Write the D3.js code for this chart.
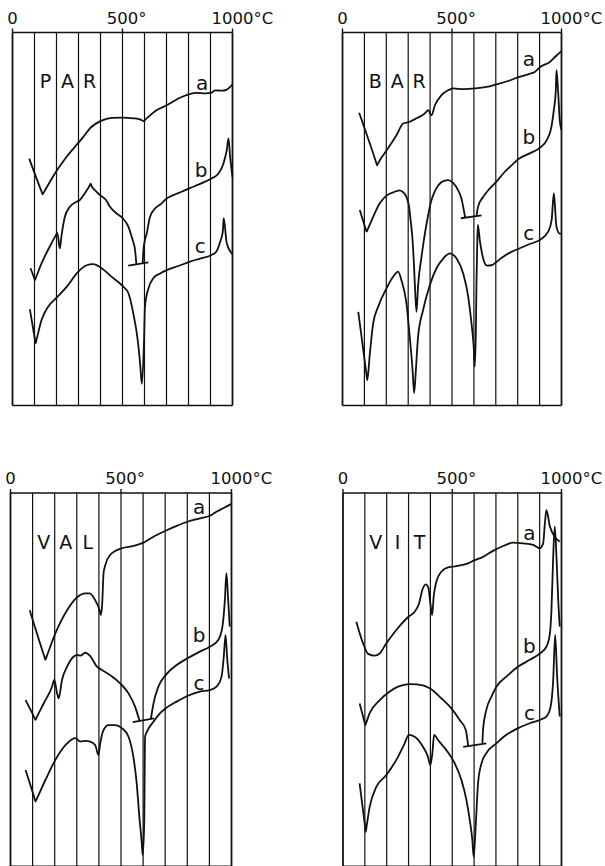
<!DOCTYPE html>
<html>
<head>
<meta charset="utf-8">
<script src="https://cdn.jsdelivr.net/npm/d3@7"></script>
<style>
  body { margin: 0; background: #fff; }
  text { font-family: "DejaVu Sans", sans-serif; fill: #111; }
</style>
</head>
<body>
<svg id="vis" width="605" height="866"></svg>
<script>
// temperature grid (every 100 degC) and the three labelled ticks
const gridTemps = [0, 100, 200, 300, 400, 500, 600, 700, 800, 900, 1000];
const tickLabels = [
    {t: 0, num: "0", unit: ""},
    {t: 500, num: "500", unit: "°"},
    {t: 1000, num: "1000", unit: "°C"}
];
// sample letters sit between the grid lines at these temperatures
const letterTemps = [150, 250, 350];
const letterLevel = 85;

// curves: [temperature degC, deflection 0-100 of the frame height]
const parA = [[76,66.2],[133,57.2],[137,56.6],[141,57.0],[197,62.6],[246,66.7],[299,70.4],[322,72.0],[352,74.3],[402,76.3],[451,77.1],[501,77.2],[549,77.0],[580,76.7],[598,76.2],[602,76.5],[618,77.4],[656,79.2],[701,80.5],[754,82.3],[804,83.5],[838,83.8],[876,83.7],[906,83.9],[921,84.5],[951,84.4],[974,84.7],[1000,86.1]];
const parBLeft = [[82,36.8],[99,34.1],[102,33.6],[106,34.2],[132,38.1],[170,42.7],[193,45.2],[204,46.3],[215,42.1],[222,45.2],[238,50.6],[261,53.3],[291,54.6],[306,55.1],[329,56.9],[351,59.0],[355,59.5],[359,58.9],[375,57.7],[398,56.4],[425,55.1],[443,53.3],[473,51.5],[501,50.2],[527,47.9],[542,45.2],[549,43.8],[557,41.7],[563,37.9]];
const parBBar = [[526,37.5],[618,38.4]];
const parBRight = [[592,38.2],[595,41.7],[602,44.3],[610,46.1],[625,50.6],[648,52.8],[678,54.2],[701,55.5],[731,56.4],[769,57.3],[804,58.2],[853,59.4],[906,60.9],[936,62.2],[959,64.9],[974,68.5],[982,71.6],[989,66.7],[1000,61.3]];
const parC = [[79,25.8],[102,17.7],[105,16.7],[109,17.6],[132,22.9],[162,26.5],[197,28.7],[246,31.8],[299,35.9],[337,37.6],[367,37.9],[405,36.8],[451,34.5],[501,32.0],[527,30.1],[549,24.7],[569,17.6],[580,11.3],[588,5.8],[598,17.6],[602,26.5],[618,31.4],[640,34.1],[671,35.4],[701,36.3],[754,37.4],[804,38.5],[853,39.4],[903,40.3],[926,41.2],[944,43.9],[956,46.6],[960,50.2],[974,43.5],[1000,40.6]];
const parLabels = [["a",862,84.7],["b",857,61.3],["c",853,40.8]];

const barA = [[76,78.5],[153,65.3],[158,64.4],[163,65.0],[204,68.6],[247,72.5],[277,75.6],[304,76.0],[338,77.0],[376,78.3],[391,79.2],[406,77.8],[422,80.5],[452,83.2],[482,84.5],[505,85.0],[551,84.8],[607,85.0],[658,85.4],[703,86.1],[756,87.0],[807,88.1],[848,88.8],[878,89.4],[904,90.8],[947,92.1],[975,93.7],[1000,95.0]];
const barBLeft = [[79,52.4],[106,47.3],[110,46.6],[114,47.1],[140,50.6],[170,54.2],[204,56.4],[239,57.3],[262,57.7],[274,57.3],[292,55.9],[304,53.3],[311,49.7],[320,44.3],[326,38.1],[333,29.2],[338,25.1],[345,32.0],[361,40.0],[376,46.0],[391,51.0],[406,55.0],[422,57.5],[437,59.0],[467,60.3],[482,60.4],[505,59.7],[528,57.7],[543,55.5],[560,50.4]];
const barBBar = [[540,50.2],[635,51.0]];
const barBRight = [[612,50.8],[619,53.3],[642,55.9],[673,58.2],[703,60.0],[734,62.2],[772,64.4],[807,66.2],[855,67.6],[904,69.2],[932,71.1],[954,74.7],[965,79.2],[974,84.5],[977,89.9],[985,83.7],[992,76.5],[1000,73.8]];
const barC = [[72,25.1],[109,8.6],[113,6.8],[125,14.0],[140,22.0],[163,26.5],[201,31.4],[231,34.5],[254,35.9],[269,33.6],[292,27.4],[307,18.4],[320,9.5],[327,3.3],[335,9.5],[345,18.4],[368,25.6],[399,32.3],[429,36.8],[460,39.4],[490,40.8],[521,39.4],[551,35.4],[574,29.2],[589,22.0],[600,14.9],[604,10.4],[609,20.2],[612,33.6],[615,42.6],[618,48.4],[627,44.3],[642,39.5],[660,37.5],[680,37.6],[703,38.5],[734,39.9],[772,41.2],[807,42.1],[855,43.3],[904,44.5],[939,46.6],[955,49.7],[965,56.9],[977,47.9],[992,46.1],[1000,46.1]];
const barLabels = [["a",851,90.9],["b",851,70.2],["c",851,44.3]];

const valA = [[87,68.6],[153,56.2],[158,55.3],[163,56.1],[203,62.4],[256,68.6],[304,72.2],[338,73.1],[358,73.1],[383,71.3],[403,68.6],[409,67.3],[415,70.4],[421,78.5],[429,80.7],[451,83.4],[504,85.2],[556,85.8],[602,86.7],[647,88.3],[702,89.9],[752,91.2],[800,92.3],[857,93.2],[902,93.9],[932,95.0],[962,95.9],[1000,97.1]];
const valBLeft = [[68,44.5],[109,39.7],[113,39.2],[117,39.7],[150,43.6],[188,48.1],[198,49.9],[211,46.3],[218,45.0],[233,49.9],[256,53.5],[278,55.7],[304,56.6],[316,56.4],[338,57.2],[361,56.3],[391,53.5],[403,53.0],[451,51.2],[496,49.0],[534,46.3],[564,42.7],[584,38.9]];
const valBBar = [[553,38.6],[650,39.6]];
const valBRight = [[635,39.4],[647,43.6],[669,48.1],[702,51.2],[752,53.9],[800,55.7],[857,57.5],[902,58.8],[940,60.6],[959,64.2],[970,71.3],[977,78.5],[985,71.3],[992,64.2]];
const valC = [[68,25.8],[109,18.1],[113,17.3],[117,17.8],[158,23.1],[203,28.5],[256,32.9],[293,34.3],[316,33.4],[338,33.6],[361,33.4],[383,32.5],[398,29.8],[406,32.9],[421,36.5],[444,37.8],[474,37.8],[504,37.0],[534,34.7],[556,29.3],[571,22.2],[583,13.3],[594,6.1],[598,3.0],[605,11.5],[609,34.7],[617,36.0],[647,38.7],[677,41.0],[702,42.3],[752,44.1],[800,45.6],[857,46.8],[902,47.2],[932,48.1],[955,50.8],[965,56.1],[973,62.0],[980,56.1],[989,50.3]];
const valLabels = [["a",853,94.4],["b",853,60.2],["c",853,47.2]];

const vitA = [[61,65.5],[92,59.7],[115,56.9],[145,56.4],[168,57.0],[198,59.7],[244,63.3],[301,66.9],[328,68.2],[348,70.4],[363,74.0],[379,75.5],[391,74.5],[400,70.4],[408,67.3],[415,72.2],[427,76.2],[450,78.9],[481,80.1],[519,80.4],[565,81.0],[603,82.0],[641,82.9],[687,84.5],[733,85.8],[779,86.7],[824,86.5],[870,86.1],[901,85.2],[916,86.5],[924,91.9],[931,95.4],[947,91.0],[969,88.3],[992,87.0]];
const vitBLeft = [[76,43.6],[99,38.5],[102,37.8],[106,38.4],[122,41.0],[168,44.5],[214,46.8],[252,48.1],[301,48.8],[339,48.7],[397,47.7],[450,45.0],[496,42.3],[534,39.2],[562,36.5],[573,32.2]];
const vitBBar = [[550,32.0],[656,32.9]];
const vitBRight = [[638,32.8],[641,36.5],[656,41.9],[679,45.4],[702,48.1],[748,50.8],[802,53.5],[855,55.3],[901,57.0],[931,58.8],[947,62.4],[954,68.6],[962,82.9],[969,91.0],[977,82.9],[985,71.3],[992,64.2]];
const vitC = [[76,22.2],[101,10.6],[104,9.2],[107,10.3],[122,15.9],[153,21.3],[198,24.4],[244,28.5],[282,32.9],[301,35.2],[328,34.7],[366,32.0],[389,29.3],[400,27.1],[409,30.3],[417,35.2],[435,33.8],[473,31.1],[511,27.6],[542,23.1],[565,17.7],[580,12.4],[592,7.0],[598,2.5],[608,11.5],[618,22.2],[634,27.6],[656,30.3],[702,32.9],[748,35.2],[802,37.0],[855,38.3],[901,39.2],[931,40.1],[950,42.7],[962,49.9],[971,62.0],[980,50.8],[992,40.1]];
const vitLabels = [["a",853,87.4],["b",853,57.0],["c",853,39.2]];

// page layout of the four frames: left, right, top, bottom (px)
const panels = [
    {letters: ["P","A","R"], box: [12.5, 232.5, 32.5, 405.5], curves: [parA, parBLeft, parBRight, parC], bar: parBBar, labels: parLabels},
    {letters: ["B","A","R"], box: [342.5, 561.5, 32.5, 405.5], curves: [barA, barBLeft, barBRight, barC], bar: barBBar, labels: barLabels},
    {letters: ["V","A","L"], box: [10.5, 231.5, 493, 866.2], curves: [valA, valBLeft, valBRight, valC], bar: valBBar, labels: valLabels},
    {letters: ["V","I","T"], box: [343, 561.5, 493, 866.2], curves: [vitA, vitBLeft, vitBRight, vitC], bar: vitBBar, labels: vitLabels}
];

function draw() {
    let svg = d3.select("#vis");
    svg.append("rect").attr("width", 605).attr("height", 866).attr("fill", "#fff");

    panels.forEach((p) => {
        let [x0, x1, top, bottom] = p.box;
        let x = d3.scaleLinear().domain([0, 1000]).range([x0, x1]);
        let y = d3.scaleLinear().domain([0, 100]).range([bottom, top]);
        let g = svg.append("g");

        // vertical grid lines
        g.selectAll(".grid")
            .data(gridTemps)
            .enter().append("line")
                .attr("x1", (d) => x(d))
                .attr("x2", (d) => x(d))
                .attr("y1", top)
                .attr("y2", bottom)
                .attr("stroke", "#111")
                .attr("stroke-width", (d) => (d == 0 || d == 1000) ? 1.8 : 1.2);

        // frame top and bottom
        [top, bottom].forEach((yy) => {
            g.append("line")
                .attr("x1", x0).attr("x2", x1)
                .attr("y1", yy).attr("y2", yy)
                .attr("stroke", "#111")
                .attr("stroke-width", 1.6);
        });

        // small ticks above the frame and their labels
        tickLabels.forEach((d) => {
            g.append("line")
                .attr("x1", x(d.t)).attr("x2", x(d.t))
                .attr("y1", top - 4).attr("y2", top)
                .attr("stroke", "#111")
                .attr("stroke-width", 1.4);
            let t = g.append("text")
                .attr("x", x(d.t))
                .attr("y", top - 9)
                .attr("text-anchor", "middle")
                .attr("font-size", "16.5px")
                .text(d.num);
            let w = t.node().getComputedTextLength();
            if (d.unit) {
                g.append("text")
                    .attr("x", x(d.t) + w / 2)
                    .attr("y", top - 9)
                    .attr("font-size", "16.5px")
                    .text(d.unit);
            }
        });

        // sample name, one letter per grid cell
        g.selectAll(".letter")
            .data(p.letters)
            .enter().append("text")
                .attr("x", (d, i) => x(letterTemps[i]))
                .attr("y", y(letterLevel))
                .attr("text-anchor", "middle")
                .attr("font-size", "19px")
                .text((d) => d);

        let line = d3.line()
            .x((d) => x(d[0]))
            .y((d) => y(d[1]))
            .curve(d3.curveMonotoneX);

        p.curves.forEach((c) => {
            g.append("path")
                .datum(c)
                .attr("d", line)
                .attr("fill", "none")
                .attr("stroke", "#111")
                .attr("stroke-width", 1.8)
                .attr("stroke-linejoin", "round");
        });

        g.append("path")
            .datum(p.bar)
            .attr("d", d3.line().x((d) => x(d[0])).y((d) => y(d[1])))
            .attr("fill", "none")
            .attr("stroke", "#111")
            .attr("stroke-width", 1.8);

        g.selectAll(".lab")
            .data(p.labels)
            .enter().append("text")
                .attr("x", (d) => x(d[1]))
                .attr("y", (d) => y(d[2]))
                .attr("text-anchor", "middle")
                .attr("font-size", "20px")
                .text((d) => d[0]);
    });
}

document.addEventListener('DOMContentLoaded', () => {
    draw();
});
</script>
</body>
</html>
